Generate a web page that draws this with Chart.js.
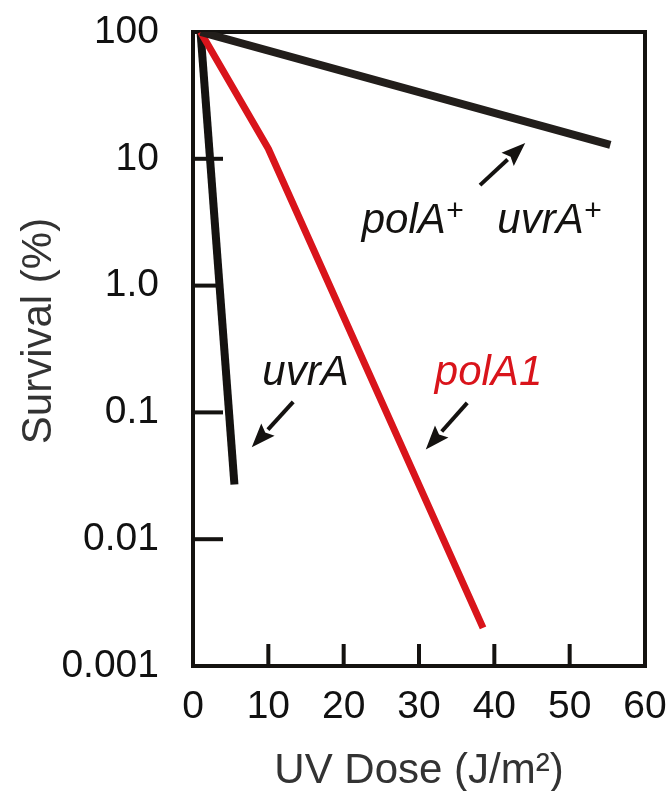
<!DOCTYPE html>
<html>
<head>
<meta charset="utf-8">
<script src="https://cdn.jsdelivr.net/npm/chart.js@4.4.1/dist/chart.umd.min.js"></script>
<style>
  html, body { margin: 0; padding: 0; background: #fff; }
  #wrap { width: 672px; height: 791px; }
</style>
</head>
<body>
<div id="wrap"><canvas id="chart" width="672" height="791"></canvas></div>
<script>
// UV dose (J/m2) vs survival (%)
const wildDose = [1, 55.4];
const wildSurvival = [100, 12.9];
const polDose = [1, 10, 38.5];
const polSurvival = [100, 12, 0.002];
const uvrDose = [1, 5.5];
const uvrSurvival = [100, 0.027];

const xTicks = [0, 10, 20, 30, 40, 50, 60];
const yTicks = [0.001, 0.01, 0.1, 1, 10, 100];
const yTickLabels = ['0.001', '0.01', '0.1', '1.0', '10', '100'];

const FONT = '"Liberation Sans", Arial, Helvetica, sans-serif';
const RED = '#d9141b';
const INK = '#141210';

// labels on the plot, placed in data units
const notes = [
  { parts: [['polA'], ['+', true]], x: 22.4, y: 2.6, color: INK },
  { parts: [['uvrA'], ['+', true]], x: 40.4, y: 2.6, color: INK },
  { parts: [['uvrA']], x: 9.2, y: 0.164, color: INK },
  { parts: [['polA1']], x: 32.1, y: 0.164, color: RED }
];
// arrows: [fromX, fromY, toX, toY]
const arrows = [
  [38.1, 6.2, 44.1, 13.3],
  [13.3, 0.121, 7.8, 0.053],
  [36.4, 0.119, 30.9, 0.051]
];

function toPoints(xs, ys) {
  return xs.map((v, i) => ({ x: v, y: ys[i] }));
}

function drawRich(ctx, parts, x, y, size, color) {
  let cx = x;
  ctx.fillStyle = color;
  ctx.textBaseline = 'alphabetic';
  ctx.textAlign = 'left';
  parts.forEach(([t, sup]) => {
    const s = sup ? size * 0.72 : size;
    ctx.font = 'italic ' + s + 'px ' + FONT;
    ctx.fillText(t, cx, sup ? y - size * 0.32 : y);
    cx += ctx.measureText(t).width;
  });
}

function drawArrow(ctx, x1, y1, x2, y2) {
  const ang = Math.atan2(y2 - y1, x2 - x1);
  const head = 24, half = 9;
  const bx = x2 - head * Math.cos(ang), by = y2 - head * Math.sin(ang);
  ctx.beginPath();
  ctx.moveTo(x1, y1);
  ctx.lineTo(bx, by);
  ctx.stroke();
  ctx.beginPath();
  ctx.moveTo(x2, y2);
  ctx.lineTo(bx + half * Math.sin(ang), by - half * Math.cos(ang));
  ctx.lineTo(bx + 4 * Math.cos(ang), by + 4 * Math.sin(ang));
  ctx.lineTo(bx - half * Math.sin(ang), by + half * Math.cos(ang));
  ctx.closePath();
  ctx.fill();
}

const frame = {
  id: 'frame',
  beforeDatasetsDraw(chart) {
    const { ctx, chartArea: a, scales: { x, y } } = chart;
    ctx.save();
    ctx.strokeStyle = INK;
    ctx.lineWidth = 4;
    ctx.strokeRect(a.left, a.top, a.right - a.left, a.bottom - a.top);
    xTicks.slice(1, -1).forEach(v => {
      const px = x.getPixelForValue(v);
      ctx.beginPath();
      ctx.moveTo(px, a.bottom);
      ctx.lineTo(px, a.bottom - 22);
      ctx.stroke();
    });
    yTicks.slice(1, -1).forEach(v => {
      const py = y.getPixelForValue(v);
      ctx.beginPath();
      ctx.moveTo(a.left, py);
      ctx.lineTo(a.left + 30, py);
      ctx.stroke();
    });
    ctx.restore();
  },
  afterDraw(chart) {
    const { ctx, scales: { x, y } } = chart;
    ctx.save();
    notes.forEach(n => {
      drawRich(ctx, n.parts, x.getPixelForValue(n.x), y.getPixelForValue(n.y), 42, n.color);
    });
    ctx.strokeStyle = INK;
    ctx.fillStyle = INK;
    ctx.lineWidth = 4;
    arrows.forEach(r => {
      drawArrow(ctx, x.getPixelForValue(r[0]), y.getPixelForValue(r[1]),
                x.getPixelForValue(r[2]), y.getPixelForValue(r[3]));
    });
    // y axis title
    ctx.translate(39, 331);
    ctx.rotate(-Math.PI / 2);
    ctx.font = '42px ' + FONT;
    ctx.fillStyle = '#333';
    ctx.textAlign = 'center';
    ctx.textBaseline = 'middle';
    ctx.fillText('Survival (%)', 0, 0);
    ctx.restore();
  }
};

new Chart(document.getElementById('chart'), {
  type: 'line',
  data: {
    datasets: [
      { label: 'polA+ uvrA+', data: toPoints(wildDose, wildSurvival), borderColor: '#221e1b', borderWidth: 8 },
      { label: 'polA1', data: toPoints(polDose, polSurvival), borderColor: RED, borderWidth: 7 },
      { label: 'uvrA', data: toPoints(uvrDose, uvrSurvival), borderColor: INK, borderWidth: 8 }
    ]
  },
  options: {
    responsive: false,
    animation: false,
    events: [],
    elements: {
      point: { radius: 0 },
      line: { tension: 0, borderCapStyle: 'butt', borderJoinStyle: 'round', fill: false }
    },
    layout: { padding: { top: 32, right: 27, left: 0, bottom: 0 } },
    plugins: { legend: { display: false }, tooltip: { enabled: false } },
    scales: {
      x: {
        type: 'linear',
        min: 0,
        max: 60,
        afterBuildTicks: s => { s.ticks = xTicks.map(v => ({ value: v })); },
        afterFit: s => { s.height = 125; s.paddingLeft = 0; s.paddingRight = 0; },
        grid: { display: false },
        border: { display: false },
        ticks: { color: '#111', font: { family: FONT, size: 39 }, padding: 10, maxRotation: 0 },
        title: { display: true, text: 'UV Dose (J/m²)', color: '#333', font: { family: FONT, size: 42 }, padding: { top: 0, bottom: -6 } }
      },
      y: {
        type: 'logarithmic',
        min: 0.001,
        max: 100,
        afterBuildTicks: s => { s.ticks = yTicks.map(v => ({ value: v })); },
        afterFit: s => { s.width = 193; s.paddingTop = 0; s.paddingBottom = 0; },
        grid: { display: false },
        border: { display: false },
        ticks: {
          color: '#111',
          font: { family: FONT, size: 39 },
          padding: 26,
          callback: v => yTickLabels[yTicks.indexOf(v)]
        }
      }
    }
  },
  plugins: [frame]
});
</script>
</body>
</html>
